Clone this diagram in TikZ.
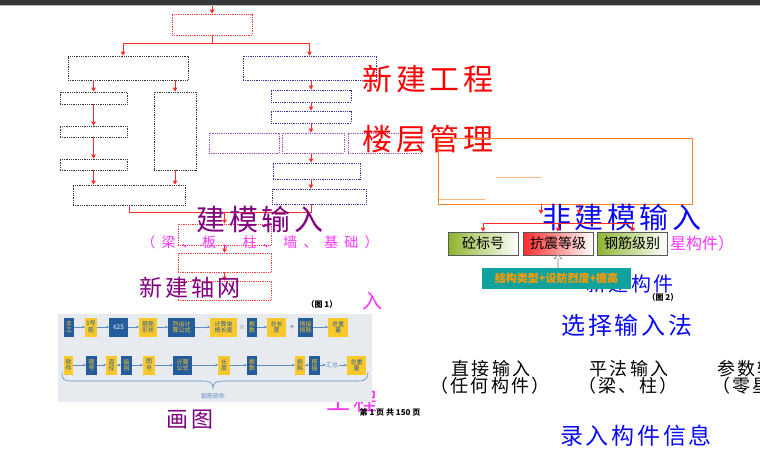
\documentclass[tikz,border=0pt]{standalone}
\usepackage{fontspec}
\setmainfont{Noto Sans CJK SC}
\newfontfamily\widecjk[LetterSpace=12]{Noto Sans CJK SC}
\newfontfamily\widercjk[LetterSpace=45]{Noto Sans CJK SC}
\usetikzlibrary{arrows.meta,shapes.arrows}

\definecolor{barcol}{HTML}{34383B}
\definecolor{arrred}{HTML}{FF2A2A}
\definecolor{rdot}{HTML}{FF3B3B}
\definecolor{kdot}{HTML}{333333}
\definecolor{bdot}{HTML}{33339A}
\definecolor{mdot}{HTML}{A64CC0}
\definecolor{orng}{HTML}{FF7F27}
\definecolor{olite}{HTML}{FFB27F}
\definecolor{ttred}{HTML}{FF0000}
\definecolor{ttpur}{HTML}{800080}
\definecolor{ttblu}{HTML}{0A0AF5}
\definecolor{ttmag}{HTML}{FF33FF}
\definecolor{tealbg}{HTML}{12A29D}
\definecolor{tealtxt}{HTML}{FF9A00}
\definecolor{grnL}{HTML}{8DB52E}
\definecolor{redL}{HTML}{FF2B2B}
\definecolor{panelbg}{HTML}{E7EAEE}
\definecolor{pblue}{HTML}{245C9C}
\definecolor{pyel}{HTML}{F9C82A}
\definecolor{parrow}{HTML}{5B8DC4}

\newcommand{\pfont}{\fontsize{6}{6.5}\selectfont}

\begin{document}
\begin{tikzpicture}[x=1pt,y=-1pt,
	rline/.style={draw=arrred, line width=0.9pt},
	rarrow/.style={rline, -{Triangle[length=4pt,width=4.5pt]}},
	dbox/.style={densely dotted, line width=0.8pt, inner sep=0},
	kbox/.style={dbox, draw=kdot},
	bbox/.style={dbox, draw=bdot},
	mbox/.style={dbox, draw=mdot},
	rbox/.style={dbox, draw=rdot},
	bigtext/.style={inner sep=0, font=\widecjk\fontsize{#1}{#1}\selectfont},
	smalltext/.style={inner sep=0, font=\bfseries\fontsize{8}{8}\selectfont},
	gradbox/.style={draw=black!65, line width=0.7pt, right color=white, minimum width=70, minimum height=23, font=\fontsize{14}{14}\selectfont},
	pb/.style={fill=pblue, text=pyel, font=\pfont, inner sep=0.3pt, minimum height=19, align=center},
	py/.style={fill=pyel, text=pblue, font=\pfont, inner sep=0.3pt, minimum height=19, align=center},
	pline/.style={draw=parrow, line width=0.6pt, -{Stealth[length=2.5pt,width=2.5pt]}}]

	\useasboundingbox (0,0) rectangle (760,452);
	\clip (0,0) rectangle (760,452);
	\fill[white] (0,0) rectangle (760,452);

	% Window bar
	\fill[barcol] (0,0) rectangle (760,5);
	\fill[gray!55] (0,5) rectangle (760,6.5);

	% Left flow chart
	\coordinate (in) at (212,6.5);
	\node[rbox, minimum width=80, minimum height=21] (top) at (212,24.5) {};
	\node[kbox, minimum width=120, minimum height=24] (l0) at (128,68) {};
	\node[bbox, minimum width=133, minimum height=24] (r0) at (309.5,68) {};
	\draw[rarrow] (in) -- (top);
	\draw[rline] (top.south) -- ++(0,8) coordinate (sp);
	\draw[rarrow] (sp) -| ([xshift=-5pt]l0.north);
	\draw[rarrow] (sp) -| (r0.north);

	\node[kbox, minimum width=67, minimum height=12] (l1) at (93.5,98) {};
	\node[kbox, minimum width=67, minimum height=11] (l2) at (93.5,131.5) {};
	\node[kbox, minimum width=67, minimum height=11] (l3) at (93.5,164.5) {};
	\node[kbox, minimum width=42, minimum height=78] (tall) at (175,131) {};
	\node[kbox, minimum width=112, minimum height=20] (lb) at (129,195) {};
	\draw[rarrow] (l0.south -| l1.north) -- (l1.north);
	\draw[rarrow] (l0.south -| tall.north) -- (tall.north);
	\draw[rarrow] (l1) -- (l2);
	\draw[rarrow] (l2) -- (l3);
	\draw[rarrow] (l3.south) -- (l3.south |- lb.north);
	\draw[rarrow] (tall.south) -- (tall.south |- lb.north);

	\node[bbox, minimum width=80, minimum height=12] (r1) at (311,96) {};
	\node[bbox, minimum width=80, minimum height=12] (r2) at (311,117) {};
	\node[mbox, minimum width=70, minimum height=20] (m1) at (244,143) {};
	\node[mbox, minimum width=62, minimum height=20] (m2) at (313,143) {};
	\node[mbox, minimum width=73, minimum height=20] (m3) at (384.5,143) {};
	\node[bbox, minimum width=87, minimum height=16] (r4) at (316.5,171) {};
	\node[bbox, minimum width=94, minimum height=15] (r5) at (319,196.5) {};
	\draw[rarrow] (r0.south -| r1.north) -- (r1.north);
	\draw[rarrow] (r1) -- (r2);
	\draw[rarrow] (r2.south) -- (r2.south |- m2.north);
	\draw[rarrow] (r2.south |- m2.south) -- (r2.south |- r4.north);
	\draw[rarrow] (r2.south |- r4.south) -- (r2.south |- r5.north);

	\node[rbox, minimum width=93, minimum height=21] (ra) at (224.5,234.5) {};
	\node[rbox, minimum width=93, minimum height=19] (rb) at (224.5,262.5) {};
	\node[rbox, minimum width=93, minimum height=19] (rc) at (224.5,290.5) {};
	\draw[rline] (lb.south) -- ++(0,7) coordinate (jl) -| (r2.south |- r5.south);
	\draw[rarrow] (jl -| ra.north) -- (ra.north);
	\draw[rarrow] (ra) -- (rb);
	\draw[rarrow] (rb) -- (rc);

	% Titles of left part
	\node[bigtext=30, text=ttred] (xjgc) at (428,79) {新建工程};
	\node[bigtext=30, text=ttred] (lcgl) at (428,139) {楼层管理};
	\node[bigtext=29, text=ttpur] (jmsr) at (260,219) {建模输入};
	\node[inner sep=0, font=\widercjk\fontsize{14}{14}\selectfont, text=ttmag] (jmsub) at (260,242) {（梁、板、柱、墙、基础）};
	\node[bigtext=23, text=ttpur] (xjzw) at (190,288) {新建轴网};

	% Fragments of covered text
	\node[bigtext=20, text=ttmag] (frag1) at (372,301) {入};
	\node[bigtext=24, text=ttmag] (frag2) at (352,402) {工程};

	% Steel panel (Fig. 1)
	\node[smalltext] (fig1) at (322,304) {（图 1）};
	\fill[panelbg] (58,314) rectangle (372,402);
	\node[pb, minimum width=10] (p1) at (69,327) {手\\工};
	\node[py, minimum width=12] (p2) at (91,327) {1号\\筋};
	\node[pb, minimum width=19, text=white, font=\fontsize{6.5}{6.5}\selectfont] (p3) at (118.5,327) {¢25};
	\node[py, minimum width=18] (p4) at (148,327) {箍筋\\形状};
	\node[pb, minimum width=27] (p5) at (181.5,327) {列出计\\算公式};
	\node[py, minimum width=27] (p6) at (223.5,327) {计算单\\根长度};
	\node[text=parrow, font=\fontsize{6}{6}\selectfont, inner sep=0] (pm) at (242,327) {※};
	\node[pb, minimum width=10] (p7) at (252,327) {根\\数};
	\node[py, minimum width=19] (p8) at (276.5,327) {总长\\度};
	\node[text=pblue, font=\fontsize{7}{7}\selectfont, inner sep=0] (pp) at (292,327) {+};
	\node[pb, minimum width=15] (p9) at (305.5,327) {搭接\\损耗};
	\node[py, minimum width=20] (p10) at (338,327) {总重\\量};
	\draw[pline] (p1) edge (p2) (p2) edge (p3) (p3) edge (p4) (p4) edge (p5) (p5) edge (p6) (p7) edge (p8) (p9) edge (p10);

	\node[py, minimum width=9] (q1) at (68.5,365) {软\\件};
	\node[pb, minimum width=11] (q2) at (91.5,365) {箍\\号};
	\node[py, minimum width=11] (q3) at (111.5,365) {直\\径};
	\node[pb, minimum width=11] (q4) at (126.5,365) {级\\别};
	\node[py, minimum width=12] (q5) at (149,365) {图\\号};
	\node[pb, minimum width=19] (q6) at (182.5,365) {计算\\公式};
	\node[py, minimum width=12] (q7) at (224,365) {长\\度};
	\node[pb, minimum width=10] (q8) at (252,365) {根\\数};
	\node[py, minimum width=10] (q9) at (300,365) {损\\耗};
	\node[pb, minimum width=11] (q10) at (314.5,365) {搭\\接};
	\node[text=parrow, font=\pfont, inner sep=0.5pt] (hz) at (332,365) {汇总};
	\node[py, minimum width=19] (q11) at (356.5,365) {总重\\量};
	\draw[pline] (q1) edge (q2) (q2) edge (q3) (q3) edge (q4) (q4) edge (q5) (q5) edge (q6) (q6) edge (q7) (q7) edge (q8) (q8) edge (q9) (q9) edge (q10) (q10) edge (hz) (hz) edge (q11);
	\draw[parrow, line width=0.6pt] (62,372) .. controls (62,380) and (64,381) .. (72,381) -- (203,381) .. controls (210,381) and (213,383) .. (213,388) .. controls (213,383) and (216,381) .. (223,381) -- (358,381) .. controls (366,381) and (368,378) .. (368,372);
	\node[text=parrow, font=\fontsize{6}{6}\selectfont, inner sep=0] (gjrj) at (213,396) {钢筋软件};

	\node[bigtext=22, text=ttpur] (huatu) at (190,420) {画图};
	\node[smalltext] (page) at (390,412) {第 1 页 共 150 页};

	% Right part (Fig. 2)
	\node[draw=orng, line width=0.9pt, minimum width=254, minimum height=66, inner sep=0] (orbox) at (565,171) {};
	\draw[olite, line width=1pt] (496,177) -- (541,177);
	\draw[olite, line width=1pt] (439,199) -- (485,199);

	\node[bigtext=29, text=ttblu] (fjm) at (622,217) {非建模输入};
	\node[inner sep=0, font=\fontsize{16}{16}\selectfont, text=ttmag] (lxgj) at (702,243) {星构件）};
	\node[bigtext=20, text=ttblu] (xjgj) at (630,284) {新建构件};

	\coordinate (oa) at (541,214);
	\coordinate (ob) at (579,214);
	\coordinate (bus) at (0,223);
	\draw[rarrow] (orbox.south -| oa) -- (oa);
	\draw[rarrow] (orbox.south -| ob) -- (ob);

	\node[gradbox, left color=grnL] (b1) at (483,243.5) {砼标号};
	\node[gradbox, left color=redL] (b2) at (558,243.5) {抗震等级};
	\node[gradbox, left color=grnL] (b3) at (632,243.5) {钢筋级别};
	\draw[rline] (bus -| b1.north) -- (bus -| b3.north);
	\draw[rarrow] (bus -| b1.north) -- (b1.north);
	\draw[rarrow] (bus -| b2.north) -- (b2.north);
	\draw[rarrow] (bus -| b3.north) -- (b3.north);

	\node[fill=tealbg, text=tealtxt, minimum width=149, minimum height=21, inner sep=0, font=\bfseries\fontsize{11}{11}\selectfont] (tl) at (556.5,278.5) {结构类型+设防烈度+檐高};
	\node[single arrow, draw=gray, fill=white, rotate=90, minimum height=13, minimum width=8, single arrow head extend=1.5pt, inner sep=0] (up) at (558,261.5) {};

	\node[smalltext] (fig2) at (663,297) {（图 2）};
	\node[bigtext=24, text=ttblu] (xzsr) at (627,325) {选择输入法};

	\node[bigtext=18, text=black] (zjsr) at (491,369) {直接输入};
	\node[bigtext=18, text=black] (zjsub) at (490,386) {（任何构件）};
	\node[bigtext=18, text=black] (pfsr) at (629,369) {平法输入};
	\node[bigtext=18, text=black] (pfsub) at (628,386) {（梁、柱）};
	\node[bigtext=18, text=black, anchor=west] (cssr) at (717,369) {参数输入};
	\node[bigtext=18, text=black, anchor=west] (cssub) at (712,386) {（零星构件）};

	\node[bigtext=23, text=ttblu] (lrgj) at (636,436) {录入构件信息};

\end{tikzpicture}
\end{document}
